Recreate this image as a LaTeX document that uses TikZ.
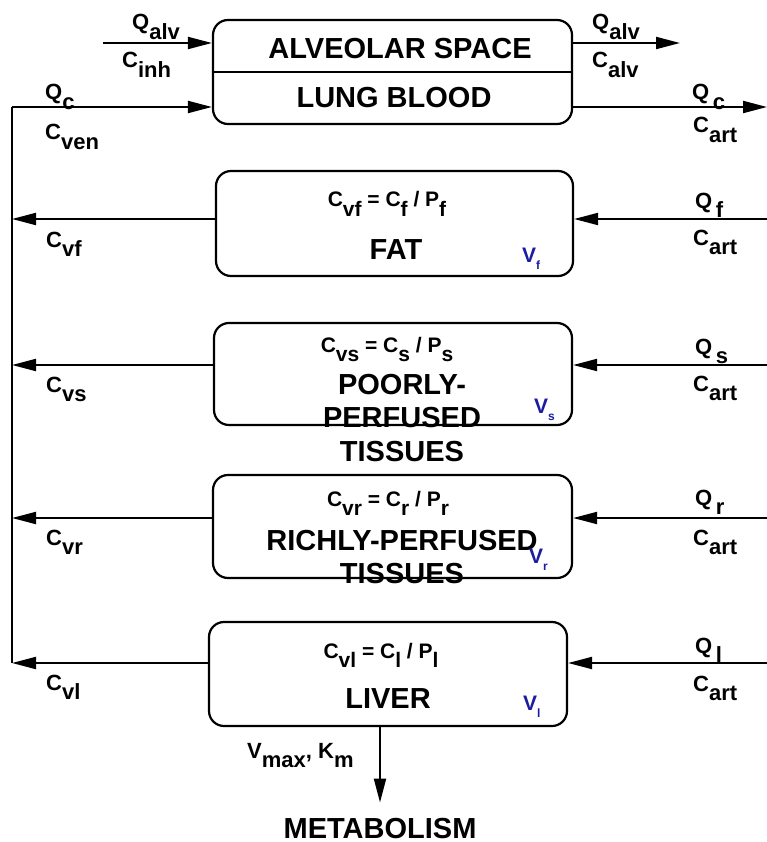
\documentclass[tikz,border=0pt]{standalone}
\usepackage{fontspec}
\setmainfont{Liberation Sans}
\usetikzlibrary{arrows.meta,positioning}
\definecolor{pbpkBlue}{HTML}{1C1CA0}
\newcommand{\low}[2]{#1\raisebox{-0.45em}{#2}}
\newcommand{\vol}[1]{V\raisebox{-0.35em}{\fontsize{12}{12}\selectfont #1}}

\begin{document}
\begin{tikzpicture}[x=1pt, y=-1pt,
  every node/.style={font=\bfseries, inner sep=0pt},
  organ/.style={draw, line width=2.2pt, rounded corners=15pt, minimum width=358pt, minimum height=104pt},
  tname/.style={font=\bfseries\fontsize{29}{33.5}\selectfont, align=center},
  lbl/.style={font=\bfseries\fontsize{22}{22}\selectfont},
  eqn/.style={font=\bfseries\fontsize{21}{21}\selectfont},
  volm/.style={font=\bfseries\fontsize{21}{21}\selectfont, text=pbpkBlue},
  flow/.style={-{Triangle[length=24pt, width=12pt]}, line width=2pt},
  wire/.style={line width=2pt},
]
  \useasboundingbox (0,0) rectangle (767,842);

  \node[organ, minimum width=359pt] (lung) at (392.5,72) {};
  \node[organ, minimum width=357pt, minimum height=105pt] (fat) at (394.5,223.5) {};
  \node[organ, minimum height=102pt] (poor) at (393,374) {};
  \node[organ, minimum width=359pt, minimum height=103pt] (rich) at (392.5,526.5) {};
  \node[organ] (liver) at (388,674) {};
  \draw[line width=2.2pt] (lung.west) -- (lung.east);

  \node[tname, anchor=base] (alv) at (400,59) {ALVEOLAR SPACE};
  \node[tname, anchor=base] (blood) at (394,108) {LUNG BLOOD};
  \node[eqn, anchor=base] (fateq) at (387,207) {\low{C}{vf} = \low{C}{f} / \low{P}{f}};
  \node[tname, anchor=base] (fatname) at (396,259) {FAT};
  \node[volm, anchor=base west] (fatv) at (522,262) {\vol{f}};
  \node[eqn, anchor=base] (pooreq) at (387,352) {\low{C}{vs} = \low{C}{s} / \low{P}{s}};
  \node[tname, anchor=north] (poorname) at (402,374) {POORLY-\\PERFUSED\\TISSUES};
  \node[volm, anchor=base west] (poorv) at (534,413) {\vol{s}};
  \node[eqn, anchor=base] (richeq) at (388,506) {\low{C}{vr} = \low{C}{r} / \low{P}{r}};
  \node[tname, anchor=north] (richname) at (402,530) {RICHLY-PERFUSED\\TISSUES};
  \node[volm, anchor=base west] (richv) at (529,563) {\vol{r}};
  \node[eqn, anchor=base] (livereq) at (381,658) {\low{C}{vl} = \low{C}{l} / \low{P}{l}};
  \node[tname, anchor=base] (livername) at (388,708) {LIVER};
  \node[volm, anchor=base west] (liverv) at (523,710) {\vol{l}};
  \node[tname, anchor=base] (metab) at (380,838) {METABOLISM};

  \coordinate (busTop) at (12,107);
  \coordinate (busBot) at (12,663);
  \coordinate (inhale) at (103,43);
  \coordinate (exhale) at (680,43);
  \coordinate (artOut) at (767,107);
  \coordinate (artF) at (767,219);
  \coordinate (artS) at (767,365);
  \coordinate (artR) at (767,518);
  \coordinate (artL) at (767,663);

  \draw[wire] (busBot) -- (busTop);
  \draw[flow] (busTop) -- (busTop -| lung.west);
  \draw[flow] (inhale) -- (inhale -| lung.west);
  \draw[flow] (inhale -| lung.east) -- (exhale);
  \draw[flow] (busTop -| lung.east) -- (artOut);
  \draw[flow] (artF) -- (artF -| fat.east);
  \draw[flow] (artF -| fat.west) -- (artF -| busTop);
  \draw[flow] (artS) -- (artS -| poor.east);
  \draw[flow] (artS -| poor.west) -- (artS -| busTop);
  \draw[flow] (artR) -- (artR -| rich.east);
  \draw[flow] (artR -| rich.west) -- (artR -| busTop);
  \draw[flow] (artL) -- (artL -| liver.east);
  \draw[flow] (artL -| liver.west) -- (busBot);
  \draw[flow, shorten >=15pt] (liver.south -| metab) -- (metab.north);

  \node[lbl, anchor=base west] (qalvin) at (132,30) {\low{Q}{alv}};
  \node[lbl, anchor=base west] (cinh) at (122,68) {\low{C}{inh}};
  \node[lbl, anchor=base west] (qalvout) at (592,30) {\low{Q}{alv}};
  \node[lbl, anchor=base west] (calv) at (592,68) {\low{C}{alv}};
  \node[lbl, anchor=base west] (qcin) at (45,100) {\low{Q}{c}};
  \node[lbl, anchor=base west] (cven) at (45,140) {\low{C}{ven}};
  \node[lbl, anchor=base west] (qcout) at (692,100) {\low{Q}{\,c}};
  \node[lbl, anchor=base west] (cartlung) at (693,133) {\low{C}{art}};
  \node[lbl, anchor=base west] (qf) at (695,208) {\low{Q}{\,f}};
  \node[lbl, anchor=base west] (cartf) at (693,245) {\low{C}{art}};
  \node[lbl, anchor=base west] (cvf) at (46,247) {\low{C}{vf}};
  \node[lbl, anchor=base west] (qs) at (695,354) {\low{Q}{\,s}};
  \node[lbl, anchor=base west] (carts) at (693,391) {\low{C}{art}};
  \node[lbl, anchor=base west] (cvs) at (46,392) {\low{C}{vs}};
  \node[lbl, anchor=base west] (qr) at (695,505) {\low{Q}{\,r}};
  \node[lbl, anchor=base west] (cartr) at (693,545) {\low{C}{art}};
  \node[lbl, anchor=base west] (cvr) at (46,545) {\low{C}{vr}};
  \node[lbl, anchor=base west] (ql) at (695,653) {\low{Q}{\,l}};
  \node[lbl, anchor=base west] (cartl) at (693,691) {\low{C}{art}};
  \node[lbl, anchor=base west] (cvl) at (46,690) {\low{C}{vl}};
  \node[lbl, anchor=base west] (vmax) at (247,758) {\low{V}{max}, \low{K}{m}};
\end{tikzpicture}
\end{document}
